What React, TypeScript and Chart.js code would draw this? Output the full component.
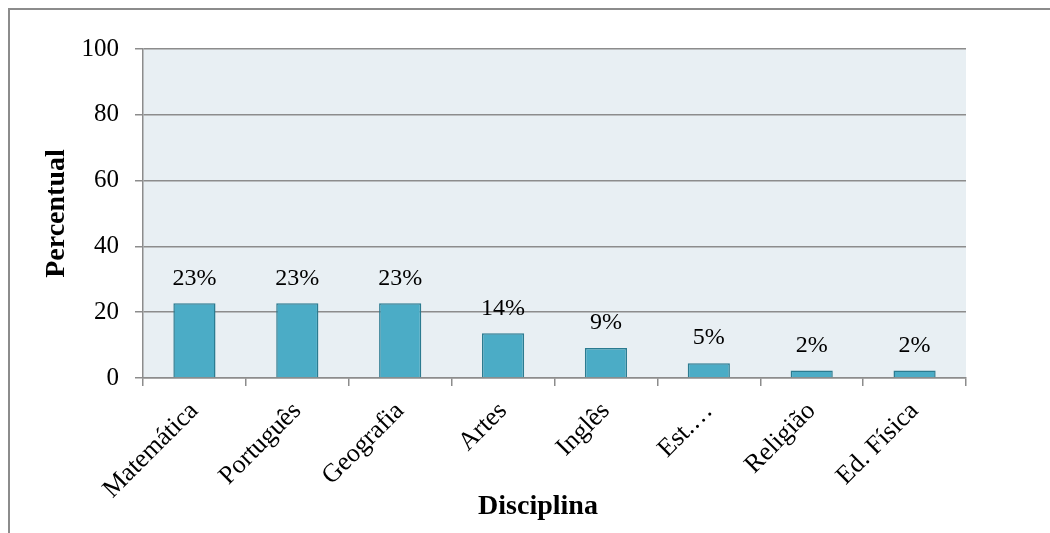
import React, { useEffect, useRef } from "react";
import { Chart, registerables } from "chart.js";

Chart.register(...registerables);

const categories = ["Matemática", "Português", "Geografia", "Artes", "Inglês", "Est.…", "Religião", "Ed. Física"];
const values = [22.7, 22.7, 22.7, 13.6, 9.1, 4.5, 2.3, 2.3];
const valueLabels = ["23%", "23%", "23%", "14%", "9%", "5%", "2%", "2%"];
const yTicks = [0, 20, 40, 60, 80, 100];
const xTitle = "Disciplina";
const yTitle = "Percentual";

const W = 1050;
const H = 533;
const PLOT_LEFT = 143;
const PLOT_RIGHT = 966;
const PLOT_TOP = 49;
const PLOT_BOTTOM = 378;
const SERIF = "'Liberation Serif', 'Times New Roman', serif";

const bgPlugin = {
  id: "plotBg",
  beforeDraw(chart: any) {
    const { ctx, chartArea } = chart;
    ctx.save();
    ctx.fillStyle = "#e8eff3";
    ctx.fillRect(chartArea.left, chartArea.top, chartArea.right - chartArea.left, chartArea.bottom - chartArea.top);
    ctx.restore();
  },
};

const labelPlugin = {
  id: "valueLabels",
  afterDatasetsDraw(chart: any) {
    const { ctx } = chart;
    const meta = chart.getDatasetMeta(0);
    ctx.save();
    ctx.font = `24px ${SERIF}`;
    ctx.fillStyle = "#000";
    ctx.textAlign = "center";
    ctx.textBaseline = "middle";
    meta.data.forEach((el: any, i: number) => {
      ctx.fillText(valueLabels[i], el.x, el.y - 25);
    });
    ctx.font = `bold 28px ${SERIF}`;
    ctx.fillText(xTitle, 538, 507);
    ctx.restore();
  },
};

export default function App() {
  const ref = useRef<HTMLCanvasElement>(null);
  useEffect(() => {
    if (!ref.current) return;
    const chart = new Chart(ref.current, {
      type: "bar",
      data: {
        labels: categories,
        datasets: [
          {
            data: values,
            backgroundColor: "#4bacc6",
            borderColor: "#2b7b90",
            borderWidth: 1.5,
            categoryPercentage: 1,
            barPercentage: 0.41,
          },
        ],
      },
      options: {
        responsive: false,
        animation: false,
        layout: { padding: { left: 0, top: PLOT_TOP, right: W - PLOT_RIGHT, bottom: 0 } },
        plugins: { legend: { display: false }, tooltip: { enabled: false } },
        scales: {
          x: {
            offset: true,
            grid: {
              offset: true,
              drawOnChartArea: false,
              drawTicks: true,
              tickLength: 8,
              color: "#8c8c8c",
              lineWidth: 1.5,
            },
            border: { display: true, color: "#8c8c8c", width: 1.5 },
            ticks: {
              maxRotation: 45,
              minRotation: 45,
              autoSkip: false,
              padding: 10,
              color: "#000",
              font: { family: SERIF, size: 26 },
            },
            title: { display: false },
            afterFit(scale: any) {
              scale.height = H - PLOT_BOTTOM;
            },
          },
          y: {
            min: 0,
            max: 100,
            afterBuildTicks(scale: any) {
              scale.ticks = yTicks.map((v) => ({ value: v }));
            },
            grid: {
              drawOnChartArea: true,
              drawTicks: true,
              tickLength: 8,
              color: "#8c8c8c",
              lineWidth: 1.5,
            },
            border: { display: true, color: "#8c8c8c", width: 1.5 },
            ticks: {
              padding: 16,
              color: "#000",
              font: { family: SERIF, size: 25 },
            },
            title: {
              display: true,
              text: yTitle,
              color: "#000",
              font: { family: SERIF, size: 28, weight: "bold" },
              padding: { top: 40, bottom: 0 },
            },
            afterFit(scale: any) {
              scale.width = PLOT_LEFT;
            },
          },
        },
      },
      plugins: [bgPlugin, labelPlugin],
    });
    return () => chart.destroy();
  }, []);

  return (
    <div style={{ position: "absolute", left: 0, top: 0, width: W, height: H, overflow: "hidden", background: "#fff" }}>
      <div
        style={{
          position: "absolute",
          left: 8,
          top: 8,
          width: W - 8,
          height: H - 8,
          boxSizing: "border-box",
          borderTop: "2px solid #8c8c8c",
          borderLeft: "2px solid #8c8c8c",
        }}
      />
      <canvas ref={ref} width={W} height={H} style={{ position: "absolute", left: 0, top: 0, width: W, height: H }} />
    </div>
  );
}
